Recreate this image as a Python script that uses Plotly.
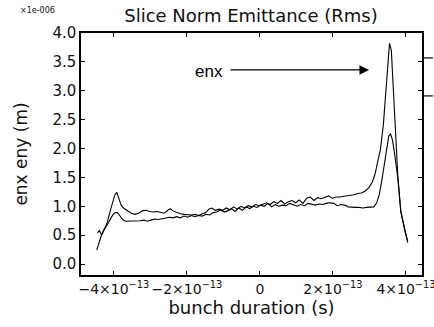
import plotly.graph_objects as go

# x in units of 1e-13 s, y in units of 1e-6 m
enx_t = [-4.47,-4.40,-4.33,-4.25,-4.18,-4.10,-4.03,-3.97,-3.92,-3.86,-3.80,-3.72,-3.62,-3.52,-3.42,-3.32,-3.22,-3.12,-3.02,-2.92,
         -2.82,-2.72,-2.62,-2.52,-2.45,-2.38,-2.28,-2.18,-2.08,-1.98,-1.88,-1.78,-1.68,-1.58,-1.48,-1.40,-1.32,-1.22,-1.12,-1.02,
         -0.92,-0.82,-0.72,-0.62,-0.52,-0.42,-0.32,-0.22,-0.12,-0.02,0.08,0.18,0.28,0.38,0.48,0.58,0.68,0.78,0.88,0.98,
         1.08,1.18,1.28,1.38,1.48,1.58,1.68,1.78,1.88,1.98,2.08,2.18,2.28,2.38,2.48,2.58,2.68,2.78,2.88,2.98,
         3.08,3.15,3.22,3.30,3.38,3.45,3.50,3.55,3.60,3.65,3.70,3.75,3.78,3.86,3.92,3.98,4.05]
enx_v = [0.24,0.40,0.52,0.62,0.72,0.92,1.08,1.20,1.24,1.14,1.02,0.96,0.92,0.88,0.86,0.88,0.92,0.93,0.91,0.90,
         0.91,0.89,0.88,0.93,0.96,0.92,0.89,0.87,0.86,0.85,0.85,0.86,0.84,0.87,0.89,0.95,0.97,0.93,0.95,0.93,
         0.97,0.94,0.99,0.95,1.00,0.97,1.01,0.99,1.03,1.01,1.04,1.06,1.03,1.08,1.05,1.10,1.04,1.08,1.10,1.06,
         1.11,1.05,1.14,1.16,1.10,1.15,1.13,1.15,1.18,1.14,1.16,1.16,1.17,1.17,1.19,1.20,1.22,1.23,1.26,1.32,
         1.42,1.55,1.75,1.98,2.40,3.00,3.50,3.82,3.70,3.05,2.45,1.85,1.50,0.91,0.72,0.55,0.39]

eny_t = [-4.45,-4.40,-4.33,-4.26,-4.18,-4.10,-4.03,-3.96,-3.90,-3.84,-3.76,-3.68,-3.58,-3.48,-3.38,-3.28,-3.18,-3.08,-2.98,-2.88,
         -2.78,-2.68,-2.58,-2.48,-2.38,-2.28,-2.18,-2.08,-1.98,-1.88,-1.78,-1.68,-1.58,-1.48,-1.38,-1.28,-1.18,-1.08,-0.98,-0.88,
         -0.78,-0.68,-0.58,-0.48,-0.38,-0.28,-0.18,-0.08,0.02,0.12,0.22,0.32,0.42,0.52,0.62,0.72,0.82,0.92,1.02,1.12,
         1.22,1.32,1.42,1.52,1.62,1.72,1.82,1.92,2.02,2.12,2.22,2.32,2.42,2.52,2.62,2.72,2.82,2.92,3.02,3.12,
         3.20,3.27,3.34,3.42,3.48,3.53,3.58,3.63,3.68,3.74,3.78,3.86,3.92,3.98,4.05]
eny_v = [0.54,0.58,0.50,0.60,0.68,0.76,0.85,0.89,0.89,0.84,0.77,0.74,0.74,0.75,0.74,0.75,0.76,0.74,0.76,0.78,
         0.77,0.78,0.79,0.81,0.80,0.82,0.80,0.83,0.81,0.84,0.82,0.84,0.83,0.86,0.85,0.89,0.90,0.94,0.90,0.92,
         0.96,0.91,0.97,0.93,0.99,0.96,1.00,0.98,1.02,1.00,1.05,0.99,1.03,1.00,1.02,1.01,1.05,1.02,1.00,1.03,
         1.01,1.05,1.03,1.02,1.04,1.03,1.05,1.06,1.05,1.01,1.03,1.02,0.99,0.98,0.98,0.98,0.97,0.98,0.98,0.99,
         1.06,1.20,1.45,1.78,2.05,2.22,2.25,2.15,1.95,1.65,1.48,0.91,0.72,0.55,0.37]

xtick_vals = [-4, -2, 0, 2, 4]
xtick_text = ["−4×10<sup>−13</sup>", "−2×10<sup>−13</sup>", "0", "2×10<sup>−13</sup>", "4×10<sup>−13</sup>"]
ytick_vals = [0.0, 0.5, 1.0, 1.5, 2.0, 2.5, 3.0, 3.5, 4.0]
ytick_text = ["0.0", "0.5", "1.0", "1.5", "2.0", "2.5", "3.0", "3.5", "4.0"]

FONT = "DejaVu Sans"

fig = go.Figure()
fig.add_trace(go.Scatter(x=[t * 1e-13 for t in enx_t], y=enx_v, mode="lines",
                         line=dict(color="black", width=1.1), name="enx"))
fig.add_trace(go.Scatter(x=[t * 1e-13 for t in eny_t], y=eny_v, mode="lines",
                         line=dict(color="black", width=1.1), name="eny"))

axis_common = dict(showline=True, linecolor="black", linewidth=1.5, mirror="ticks",
                   ticks="inside", ticklen=4, tickcolor="black", showgrid=False, zeroline=False,
                   automargin=False, ticklabeloverflow="allow")

fig.update_xaxes(range=[-4.9e-13, 4.44e-13], tickvals=[v * 1e-13 for v in xtick_vals], ticktext=xtick_text,
                 tickangle=0, tickfont=dict(family=FONT, size=14, color="#111"),
                 title=dict(text="bunch duration (s)", font=dict(family=FONT, size=18, color="#111"), standoff=6),
                 **axis_common)
fig.update_yaxes(range=[-0.19, 4.0], tickvals=ytick_vals, ticktext=ytick_text,
                 tickfont=dict(family=FONT, size=15, color="#111"),
                 title=dict(text="enx eny (m)", font=dict(family=FONT, size=17, color="#111"), standoff=20),
                 **axis_common)

fig.update_layout(
    width=434, height=327, showlegend=False,
    margin=dict(l=81, r=12, t=33, b=52, autoexpand=False),
    paper_bgcolor="white", plot_bgcolor="white",
    title=dict(text="Slice Norm Emittance (Rms)", x=251 / 434, xanchor="center", y=1 - 16 / 327, yanchor="middle",
               font=dict(family=FONT, size=18, color="#111")),
    annotations=[
        dict(text="×1e-006", xref="paper", yref="paper", x=-0.185, y=1.095, xanchor="left", yanchor="middle",
             showarrow=False, font=dict(family=FONT, size=8, color="#111")),
        dict(text="enx", xref="x", yref="y", x=-0.95e-13, y=3.33, xanchor="right", yanchor="middle",
             showarrow=False, font=dict(family="Liberation Sans", size=17, color="black")),
        dict(text="", xref="x", yref="y", x=2.99e-13, y=3.36, ax=-140, ay=0, showarrow=True,
             arrowhead=2, arrowsize=1.6, arrowwidth=1.2, arrowcolor="black", standoff=0, startstandoff=0),
    ],
    shapes=[
        dict(type="line", xref="paper", yref="paper", x0=1.006, x1=1.032, y0=0.897, y1=0.897,
             line=dict(color="black", width=1.2)),
        dict(type="line", xref="paper", yref="paper", x0=1.006, x1=1.032, y0=0.740, y1=0.740,
             line=dict(color="black", width=1.2)),
    ],
)

fig.write_html("out.html")
